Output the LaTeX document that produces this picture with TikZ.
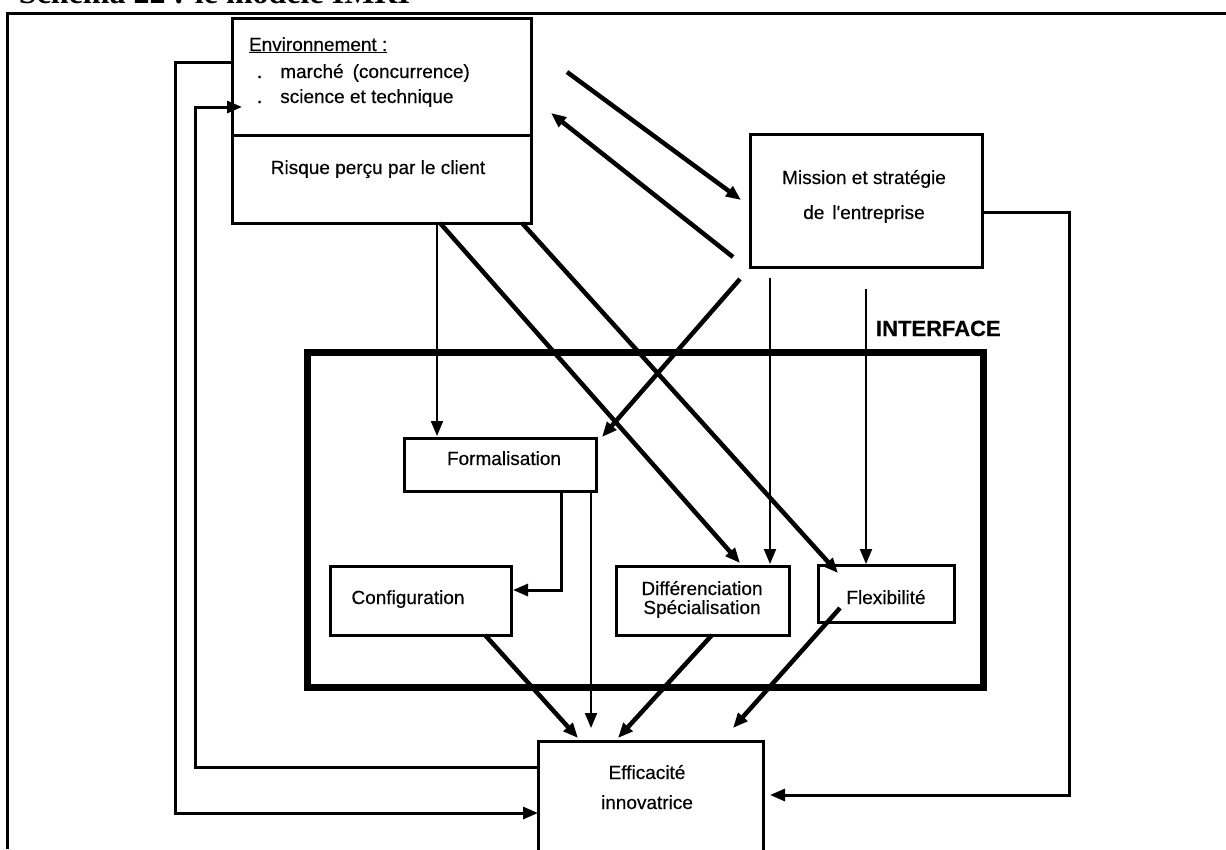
\documentclass[tikz,border=0pt]{standalone}
\usepackage{fontspec}
\setmainfont{Liberation Sans}[FakeBold=0.4]
\newfontfamily\lblfont{Liberation Sans}[FakeBold=0.35]
\newfontfamily\titlefont{Liberation Serif}
\usetikzlibrary{arrows.meta,calc}
\begin{document}
\begin{tikzpicture}[x=1pt,y=-1pt,
  every node/.style={inner sep=0pt, outer sep=0pt},
  box/.style={draw, line width=3pt},
  lbl/.style={font=\lblfont\fontsize{19}{20}\selectfont},
  tip/.style={-{Triangle[length=15pt,width=12pt]}},
  thinln/.style={line width=2pt},
  midln/.style={line width=3pt},
  diagln/.style={line width=4.5pt},
]
\useasboundingbox (0,0) rectangle (1226,849);
% outer frame
\coordinate (fbl) at (7,849);
\coordinate (ftl) at (7,13);
\coordinate (ftr) at (1226,13);
\draw[line width=3pt] (fbl) -- (ftl) -- (ftr);
\node[anchor=base west, font=\titlefont\bfseries\fontsize{32}{34}\selectfont] (title) at (19,3.5) {Schéma 22 : le modèle IMRI};

% boxes
\node[box, minimum width=299pt, minimum height=205pt] (env) at (381.5,120.5) {};
\coordinate (div) at (231,135);
\draw[line width=3pt] (env.west |- div) -- (env.east |- div);
\node[box, minimum width=232pt, minimum height=133pt] (mission) at (866,200.5) {};
\node[draw, line width=7pt, minimum width=676pt, minimum height=335pt] (iface) at (645,519.5) {};
\node[box, minimum width=192pt, minimum height=53pt] (form) at (500,464.5) {};
\node[box, minimum width=181pt, minimum height=69pt] (config) at (420.5,600.5) {};
\node[box, minimum width=173pt, minimum height=69pt] (diff) at (702.5,600.5) {};
\node[box, minimum width=136pt, minimum height=57pt] (flex) at (886,593.5) {};
\node[box, minimum width=225pt, minimum height=159pt] (effic) at (650.5,820.5) {};

% texts
\node[lbl, anchor=base west] (tenv) at (249,51) {\underline{Environnement :}};
\node[lbl, anchor=base west] (tmar) at (257,78) {.\hspace{18pt}marché\hspace{9pt}(concurrence)};
\node[lbl, anchor=base west] (tsci) at (257,103) {.\hspace{18pt}science et technique};
\node[lbl, anchor=base] (trisk) at (378,174) {Risque perçu par le client};
\node[lbl, anchor=base] (tmis1) at (864,184) {Mission et stratégie};
\node[lbl, anchor=base] (tmis2) at (864,219) {de\hspace{8pt}l'entreprise};
\node[anchor=base west, font=\bfseries\fontsize{22}{24}\selectfont] (tint) at (876,336) {INTERFACE};
\node[lbl, anchor=base] (tform) at (504,465) {Formalisation};
\node[lbl, anchor=base] (tconf) at (408,604) {Configuration};
\node[lbl, anchor=base] (tdiff1) at (702,595) {Différenciation};
\node[lbl, anchor=base] (tdiff2) at (702,614) {Spécialisation};
\node[lbl, anchor=base] (tflex) at (886,604) {Flexibilité};
\node[lbl, anchor=base] (teff1) at (647,779) {Efficacité};
\node[lbl, anchor=base] (teff2) at (647,809) {innovatrice};

% env <-> mission
\coordinate (em1) at (567,72);
\coordinate (em2) at (741,200);
\draw[diagln,tip] (em1) -- (em2);
\coordinate (me1) at (733,257);
\coordinate (me2) at (551,113);
\draw[diagln,tip] (me1) -- (me2);

% env -> form / diff / flex
\coordinate (ef) at (437,436);
\draw[thinln,tip] (env.south -| ef) -- (ef);
\coordinate (ed1) at (440,223);
\coordinate (ed2) at (740,563);
\draw[diagln,tip] (env.south -| ed1) -- (ed2);
\coordinate (ex1) at (522,223);
\coordinate (ex2) at (838,573);
\draw[diagln,tip] (env.south -| ex1) -- (ex2);

% mission -> form / diff / flex
\coordinate (mf1) at (740,279);
\coordinate (mf2) at (602,437);
\draw[diagln,tip] (mf1) -- (mf2);
\coordinate (md1) at (770,278);
\coordinate (md2) at (770,564);
\draw[thinln,tip] (md1) -- (md2);
\coordinate (mx1) at (866,289);
\coordinate (mx2) at (866,564);
\draw[thinln,tip] (mx1) -- (mx2);

% form -> config, form -> effic
\coordinate (fc) at (561,590);
\draw[midln,tip] (form.south -| fc) -- (fc) -- ([xshift=2pt]config.east |- fc);
\coordinate (fe) at (591,728);
\draw[thinln,tip] (form.south -| fe) -- (fe);

% config / diff / flex -> effic
\coordinate (ce1) at (485,635);
\coordinate (ce2) at (578,738);
\draw[diagln,tip] (config.south -| ce1) -- (ce2);
\coordinate (de1) at (712,635);
\coordinate (de2) at (618,738);
\draw[diagln,tip] (diff.south -| de1) -- (de2);
\coordinate (xe1) at (840,608);
\coordinate (xe2) at (733,728);
\draw[diagln,tip] (xe1) -- (xe2);

% loops
\coordinate (mr) at (982,212);
\coordinate (rl) at (1069,795);
\draw[midln,tip] (mission.east |- mr) -| (rl) -- ([xshift=7pt]effic.east |- rl);
\coordinate (ol1) at (175,62);
\coordinate (ol2) at (175,813);
\draw[midln,tip] (env.west |- ol1) -- (ol1) -- (ol2) -- (effic.west |- ol2);
\coordinate (il1) at (195,767);
\coordinate (il2) at (195,107);
\draw[midln,tip] (effic.west |- il1) -- (il1) -- (il2) -- ([xshift=10pt]env.west |- il2);
\end{tikzpicture}
\end{document}
